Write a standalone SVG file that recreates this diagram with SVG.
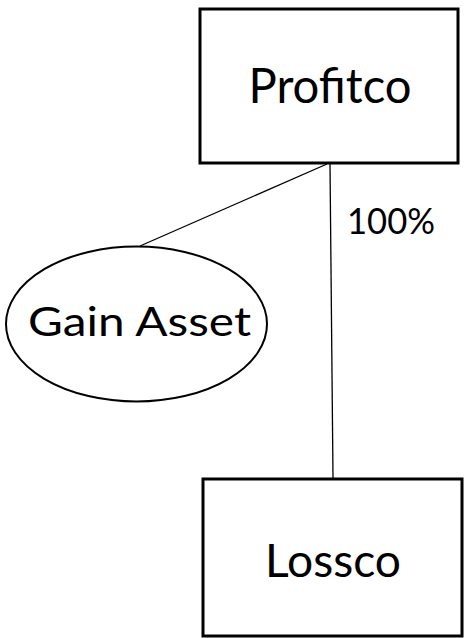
<svg xmlns="http://www.w3.org/2000/svg" width="465" height="638" viewBox="0 0 465 638">
  <style>
    .box { fill: #ffffff; stroke: #000000; stroke-width: 3; }
    .oval { fill: #ffffff; stroke: #000000; stroke-width: 2; }
    .link { stroke: #000000; stroke-width: 1.3; fill: none; }
    .lbl { font-family: Lato, "Open Sans", "Liberation Sans", sans-serif; fill: #000000; }
  </style>
  <rect width="465" height="638" fill="#ffffff"/>
  <g id="connectors">
    <line class="link" x1="327" y1="164" x2="140" y2="246"/>
    <line class="link" x1="330" y1="164" x2="333" y2="478"/>
    <text class="lbl" x="347" y="234" font-size="36" textLength="88" lengthAdjust="spacingAndGlyphs">100%</text>
  </g>
  <g id="profitco">
    <rect class="box" x="200" y="9" width="258" height="154"/>
    <text class="lbl" x="330" y="103" font-size="48.5" text-anchor="middle" textLength="163" lengthAdjust="spacingAndGlyphs">Profitco</text>
  </g>
  <g id="gain-asset">
    <ellipse class="oval" cx="136.5" cy="324" rx="130.5" ry="77.5"/>
    <text class="lbl" x="139.5" y="336" font-size="40" text-anchor="middle" textLength="223" lengthAdjust="spacingAndGlyphs">Gain Asset</text>
  </g>
  <g id="lossco">
    <rect class="box" x="203" y="479" width="259" height="157"/>
    <text class="lbl" x="333" y="577" font-size="47" text-anchor="middle" textLength="136" lengthAdjust="spacingAndGlyphs">Lossco</text>
  </g>
</svg>
